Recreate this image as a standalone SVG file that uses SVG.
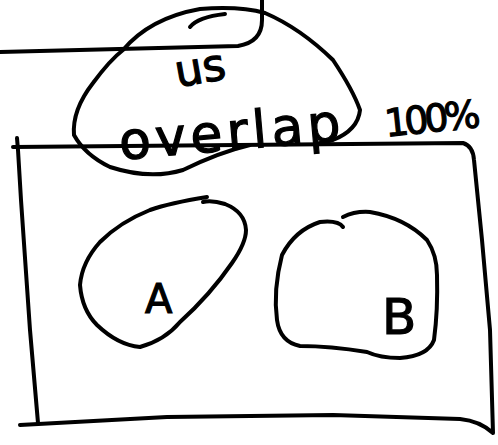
<svg xmlns="http://www.w3.org/2000/svg" width="498" height="445" viewBox="0 0 498 445">
<style>
.s{fill:none;stroke:#000;stroke-width:4;stroke-linecap:round;stroke-linejoin:round}
.t{font-family:"DejaVu Sans",sans-serif;fill:#000;stroke:#000;stroke-width:1.2}
</style>
<rect width="498" height="445" fill="#fff"/>
<g id="lines">
<path class="s" d="M0,52 L238,46 Q262,42 262,20 L262,0"/>
</g>
<g id="frame">
<path class="s" d="M13,147 L463,143 Q473,146 474,160 L482,240 L490,330 L493,433 Q480,421 460,419 L333,415 L167,417 L20,425"/>
<path class="s" d="M17,138 L18,150 L21,200 L30,330 L38,423"/>
</g>
<g id="overlap">
<path class="s" d="M250,145 Q220,152 183,170 Q150,180 110,167 Q85,155 74,135 Q72,110 93,83 Q110,60 123,50 Q150,18 200,9 Q240,6 265,13 Q300,28 333,60 Q353,90 360,110 Q358,130 333,140 L320,143"/>
<path class="s" d="M190,27 Q198,17 225,14"/>
<text class="t" x="174" y="82" font-size="44" transform="rotate(-10 206 64)">us</text>
<text class="t" x="118" y="150" font-size="52" textLength="222" transform="rotate(-5 230 125)">overlap</text>
<text class="t" x="384" y="132" font-size="38" textLength="96" transform="rotate(-6 430 115)">100%</text>
</g>
<g id="A">
<path class="s" d="M207,197 Q170,203 150,210 Q120,222 100,242 Q82,262 80,285 Q82,310 97,325 Q118,345 140,347 Q165,340 180,322 Q210,295 232,263 Q246,243 246,230 Q245,212 225,204 Q212,200 203,202"/>
<text class="t" x="145" y="313" font-size="40">A</text>
</g>
<g id="B">
<path class="s" d="M343,217 Q355,211 370,212 Q405,218 427,240 Q437,255 437,275 Q438,310 434,340 Q428,356 400,358 Q380,358 367,352 Q330,346 300,346 Q280,342 277,320 Q273,290 282,255 Q295,230 320,222 Q338,220 343,227"/>
<text class="t" x="382" y="334" font-size="50">B</text>
</g>
</svg>
